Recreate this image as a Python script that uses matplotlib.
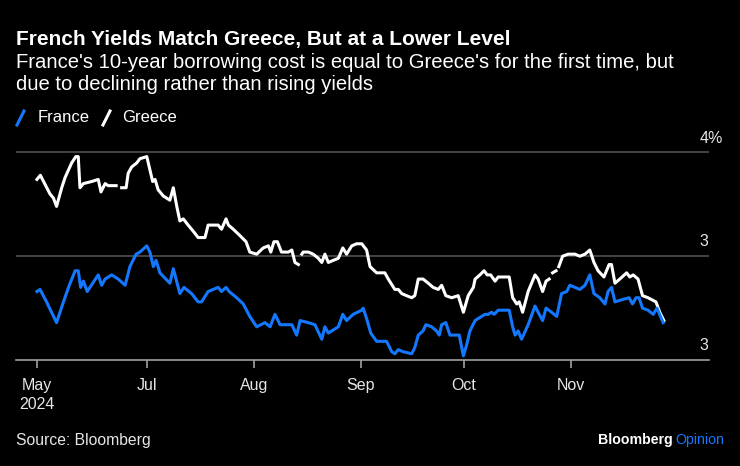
import numpy as np
import matplotlib
matplotlib.use("Agg")
import matplotlib.pyplot as plt
from matplotlib.lines import Line2D

# days counted from 30 May 2024, yields in %
greece_day = [0, 1, 3.8, 4.8, 5.7, 7.2, 8.2, 10.1, 11.3, 12.0, 12.5, 13.5, 15.9, 17.8, 18.6,
              19.8, 20.7, 21.7, 23.0, np.nan, 24.6, 25.9, 26.5, 27.5, 29.0, 29.9, 31.9, 33.6,
              34.3, 35.2, 36.7, 38.6, 39.6, 40.6, 41.5, 42.5, 43.9, 45.4, 46.8, 48.8, 49.7,
              52.6, 53.6, 54.9, 55.6, 57.0, 58.9, 60.7, 61.8, 63.8, 65.7, 67.2, 67.9, 68.8,
              69.8, 71.0, 73.0, 74.0, 74.9, 75.9, np.nan, 76.9, 77.3, 78.8, 80.2, 81.7, 82.7,
              83.6, 84.6, 86.0, 87.5, 88.8, 89.9, 91.4, 92.8, 94.3, 95.7, 96.7, 98.6, 101.0,
              102.0, 103.9, 104.9, 105.9, 107.3, 108.8, 109.7, 110.7, 112.1, 113.6, 115.0,
              116.5, 117.5, 118.7, 120.4, 122.3, 123.8, 125.2, 126.7, 127.2, 128.6, 129.8,
              130.7, 131.7, 133.0, 133.9, 135.4, 137.1, 138.1, 139.3, 140.0, 141.0, 142.6,
              144.6, 145.5, 146.8, 147.8, 148.7, np.nan, 149.7, 150.7, np.nan, 151.5, 152.6,
              154.2, 156.2, 157.6, 159.1, 160.5, 161.7, 162.9, 164.6, 166.1, 166.8, 167.8,
              169.2, 171.2, 172.1, 173.1, 174.5, 175.8, 177.4, 179.7, 180.8, 182.0]
greece = [3.87, 3.89, 3.80, 3.78, 3.74, 3.83, 3.88, 3.95, 3.98, 3.98, 3.83, 3.85, 3.86, 3.87, 3.81,
          3.85, 3.84, 3.84, 3.84, np.nan, 3.83, 3.83, 3.90, 3.93, 3.95, 3.97, 3.98, 3.86,
          3.87, 3.82, 3.79, 3.77, 3.83, 3.74, 3.67, 3.68, 3.65, 3.62, 3.59, 3.59, 3.65,
          3.65, 3.63, 3.68, 3.65, 3.63, 3.60, 3.57, 3.52, 3.51, 3.54, 3.55, 3.52, 3.57,
          3.57, 3.52, 3.52, 3.53, 3.47, 3.46, np.nan, 3.51, 3.52, 3.52, 3.51, 3.49, 3.47,
          3.51, 3.47, 3.48, 3.49, 3.54, 3.51, 3.55, 3.56, 3.56, 3.53, 3.45, 3.42, 3.42,
          3.39, 3.34, 3.34, 3.32, 3.31, 3.30, 3.31, 3.39, 3.39, 3.37, 3.35,
          3.34, 3.36, 3.31, 3.30, 3.31, 3.23, 3.31, 3.35, 3.39, 3.41, 3.43,
          3.41, 3.41, 3.38, 3.40, 3.40, 3.40, 3.30, 3.27, 3.28, 3.23, 3.33,
          3.41, 3.39, 3.33, 3.38, 3.39, np.nan, 3.42, 3.43, np.nan, 3.45, 3.50,
          3.51, 3.51, 3.50, 3.51, 3.53, 3.47, 3.43, 3.40, 3.46, 3.46, 3.37,
          3.39, 3.42, 3.40, 3.41, 3.39, 3.31, 3.30, 3.28, 3.23, 3.19]

france_day = [0, 0.9, 2.8, 5.7, 7.7, 9.4, 11.1, 12.0, 12.7, 13.5, 14.6, 16.2, 17.8, 18.8, 19.8,
              21.7, 23.6, 25.6, 27.0, 28.8, 29.9, 31.9, 32.8, 33.8, 34.6, 35.7, 38.6, 39.6,
              41.5, 42.7, 44.9, 46.8, 47.8, 49.7, 52.6, 53.6, 54.9, 55.8, 58.0, 59.9, 61.8,
              63.8, 66.2, 67.7, 69.1, 70.6, 72.5, 74.0, 75.4, 76.4, 78.8, 80.7, 82.7, 83.6,
              84.6, 87.5, 88.8, 89.9, 91.8, 94.3, 94.7, 95.7, 96.9, 98.6, 101.5, 103.0, 103.9,
              104.9, 106.3, 108.8, 109.7, 110.7, 112.1, 112.9, 114.6, 116.0, 116.8, 117.5,
              118.7, 119.9, 122.6, 123.8, 124.7, 125.7, 127.2, 128.1, 130.1, 131.0, 132.0,
              132.7, 133.9, 136.4, 137.1, 138.1, 138.8, 139.7, 140.7, 142.6, 144.6, 145.5,
              146.8, 147.8, 149.4, 150.9, 152.3, 153.8, 154.7, 156.2, 157.6, 159.1, 160.5,
              161.7, 163.4, 164.9, 165.8, 166.8, 167.8, 169.7, 171.9, 172.9, 173.9, 174.8,
              175.8, 177.4, 178.9, 180.0, 181.8]
france = [3.33, 3.34, 3.28, 3.18, 3.28, 3.36, 3.43, 3.43, 3.35, 3.38, 3.33, 3.37, 3.41, 3.36, 3.39,
          3.41, 3.39, 3.36, 3.45, 3.51, 3.52, 3.55, 3.52, 3.45, 3.48, 3.42, 3.37, 3.44,
          3.32, 3.35, 3.32, 3.28, 3.28, 3.33, 3.35, 3.33, 3.35, 3.33, 3.30, 3.27, 3.21,
          3.16, 3.18, 3.16, 3.22, 3.17, 3.17, 3.17, 3.12, 3.19, 3.18, 3.17, 3.10, 3.16,
          3.13, 3.16, 3.22, 3.19, 3.22, 3.24, 3.25, 3.20, 3.13, 3.09, 3.09, 3.04, 3.03,
          3.05, 3.04, 3.03, 3.06, 3.12, 3.14, 3.17, 3.16, 3.14, 3.12, 3.17,
          3.18, 3.12, 3.12, 3.02, 3.07, 3.14, 3.19, 3.20, 3.22, 3.22, 3.23,
          3.22, 3.24, 3.24, 3.24, 3.16, 3.12, 3.14, 3.10, 3.17, 3.26, 3.23,
          3.19, 3.25, 3.23, 3.21, 3.32, 3.33, 3.36, 3.35, 3.34, 3.36, 3.41,
          3.32, 3.30, 3.27, 3.33, 3.35, 3.28, 3.29, 3.30, 3.27, 3.30, 3.30,
          3.25, 3.24, 3.22, 3.25, 3.18]

tick_days = [0, 32, 63, 94, 124, 155]
tick_labels = ["May\n2024", "Jul", "Aug", "Sep", "Oct", "Nov"]
grid_values = [4.0, 3.5, 3.0]
grid_labels = ["4%", "3", "3"]

BLUE = "#1478ff"
BG = "#000000"
plt.rcParams["font.family"] = ["Liberation Sans", "DejaVu Sans"]

fig = plt.figure(figsize=(7.4, 4.66), dpi=100, facecolor=BG)
ax = fig.add_axes([16 / 740, 106 / 466, 693 / 740, 220 / 466])
ax.set_facecolor(BG)

# gridlines
for v in grid_values[:-1]:
    ax.axhline(v, color="#505050", lw=1.2, zorder=1)

ax.plot(greece_day, greece, color="white", lw=2.2, zorder=3)
ax.plot(france_day, france, color=BLUE, lw=2.2, zorder=4)

ax.set_xlim(-6.07, 195.1)
ax.set_ylim(3.0, 4.06)

for s in ["top", "right", "left"]:
    ax.spines[s].set_visible(False)
ax.spines["bottom"].set_color("#a0a0a0")
ax.spines["bottom"].set_linewidth(1.2)

ax.set_xticks(tick_days)
ax.set_xticklabels(tick_labels, fontsize=11.5, color="#e6e6e6", linespacing=1.3)
ax.tick_params(axis="x", colors="#a0a0a0", length=6, width=1.2, pad=7,
               labelcolor="#e6e6e6")
ax.set_yticks([])

# value labels sit above the gridlines, numbers flush with the right end
for v, lbl in zip(grid_values, grid_labels):
    ax.annotate(lbl, xy=(1.0, v), xycoords=("axes fraction", "data"),
                xytext=(-7, 5), textcoords="offset points", ha="left", va="bottom",
                fontsize=11.5, color="#e6e6e6", annotation_clip=False)

# header
fig.text(16 / 740, 1 - 39 / 466, "French Yields Match Greece, But at a Lower Level",
         fontsize=15, fontweight="bold", color="white", va="center")
fig.text(16 / 740, 1 - 62 / 466,
         "France's 10-year borrowing cost is equal to Greece's for the first time, but",
         fontsize=14.6, color="white", va="center")
fig.text(16 / 740, 1 - 85 / 466, "due to declining rather than rising yields",
         fontsize=14.6, color="white", va="center")

# legend
for x0, xt, name, col in [(17, 38, "France", BLUE), (103, 122, "Greece", "white")]:
    fig.add_artist(Line2D([x0 / 740, (x0 + 7) / 740], [1 - 125 / 466, 1 - 111 / 466],
                          color=col, lw=2.2, transform=fig.transFigure))
    fig.text(xt / 740, 1 - 118 / 466, name, fontsize=12, color="white",
             va="center")

# footer
fig.text(16 / 740, 1 - 440 / 466, "Source: Bloomberg", fontsize=11.3, color="#e6e6e6",
         va="center")
op = fig.text(724 / 740, 1 - 440 / 466, "Opinion", fontsize=10.2, color=BLUE,
              ha="right", va="center")
ax.annotate("Bloomberg", xy=(0, 0.5), xycoords=op, xytext=(-2, 0),
            textcoords="offset points", ha="right", va="center", fontsize=10.2,
            fontweight="bold", color="white", annotation_clip=False)

fig.savefig("out.png", dpi=100, facecolor=BG)
